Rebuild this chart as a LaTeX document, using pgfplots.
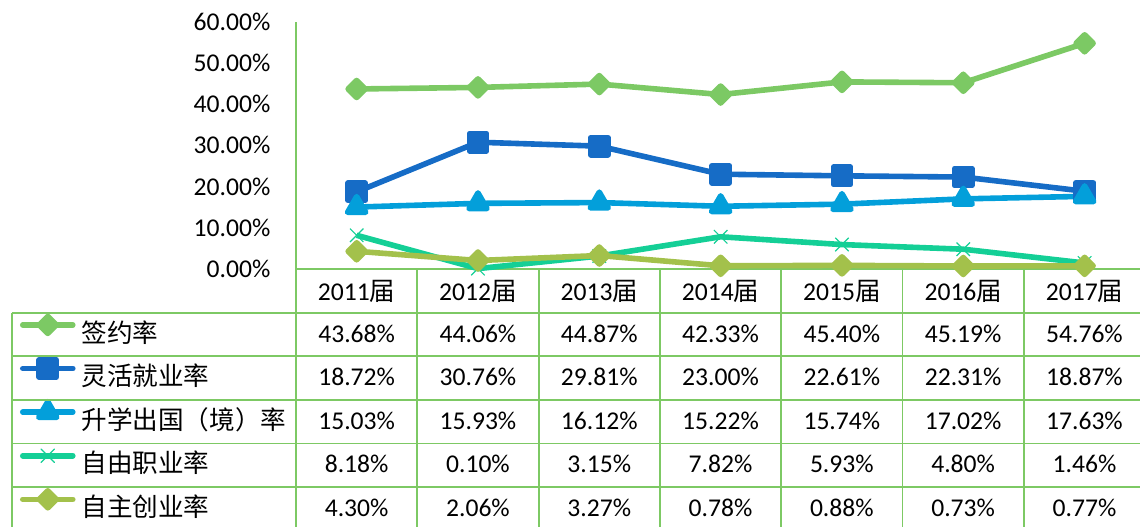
\documentclass[border=0pt]{standalone}
\usepackage{pgfplots}
\usepackage{pgfplotstable}
\pgfplotsset{compat=1.18}
\usepackage{fontspec}
\setmainfont{Carlito}
\newfontfamily\cjk{Noto Sans CJK SC}
\definecolor{cA}{RGB}{124,201,100}
\definecolor{cB}{RGB}{22,108,198}
\definecolor{cC}{RGB}{3,159,218}
\definecolor{cD}{RGB}{20,207,150}
\definecolor{cE}{RGB}{163,193,75}
\definecolor{gridc}{RGB}{125,201,100}
\newcommand{\fs}{\fontsize{12.8pt}{15pt}\selectfont}
\pgfplotstableread{
x a b c d e
0 43.68 18.72 15.03 8.18 4.30
1 44.06 30.76 15.93 0.10 2.06
2 44.87 29.81 16.12 3.15 3.27
3 42.33 23.00 15.22 7.82 0.78
4 45.40 22.61 15.74 5.93 0.88
5 45.19 22.31 17.02 4.80 0.73
6 54.76 18.87 17.63 1.46 0.77
}\data
\begin{document}
\begin{tikzpicture}
\clip (-148pt,-128.5pt) rectangle (422pt,134.5pt);
\begin{axis}[
  at={(0,0)}, anchor=south west,
  scale only axis, width=424.65pt, height=123.65pt,
  xmin=-0.5, xmax=6.5, ymin=0, ymax=60,
  clip=false,
  axis x line=bottom, axis y line=left,
  axis line style={draw=gridc, line width=0.9pt, -},
  major tick length=0pt,
  ytick={0,10,...,60},
  yticklabel={\pgfmathprintnumber[fixed,fixed zerofill,precision=2,assume math mode=true]{\tick}\%},
  yticklabel style={font=\fs, anchor=east, inner sep=0pt, xshift=-12.6pt},
  xtick={0,...,6},
  xticklabels={2011{\cjk 届},2012{\cjk 届},2013{\cjk 届},2014{\cjk 届},2015{\cjk 届},2016{\cjk 届},2017{\cjk 届}},
  xticklabel style={font=\fs, anchor=base, inner sep=0pt, yshift=-15.5pt},
  every axis plot/.append style={line width=2.8pt, line join=round},
  legend image code/.code={\draw[mark repeat=2,mark phase=2,line cap=round,#1] plot coordinates {(0pt,4.75pt) (12.5pt,4.75pt) (25pt,4.75pt)};},
  legend style={at={(0,0)}, anchor=north west, xshift=-138pt, yshift=-21.8pt,
    draw=none, fill=none, inner sep=0pt, outer sep=0pt, row sep=0pt, column sep=3pt,
    font=\fs\cjk,
    nodes={inner sep=0pt, text height=14.75pt, text depth=7.05pt},
    cells={anchor=base west}},
  legend cell align=left,
]
\addplot[color=cA, mark=square*, mark size=3.0pt, mark options={rotate=45}] table[x=x,y=a]{\data};
\addlegendentry{签约率}
\addplot[color=cB, mark=square*, mark size=4.3pt] table[x=x,y=b]{\data};
\addlegendentry{灵活就业率}
\addplot[color=cC, mark=triangle*, mark size=5.2pt] table[x=x,y=c]{\data};
\addlegendentry{升学出国（境）率}
\addplot[color=cD, mark=x, mark size=4.75pt, mark options={line width=0.6pt}] table[x=x,y=d]{\data};
\addlegendentry{自由职业率}
\addplot[color=cE, mark=square*, mark size=3.0pt, mark options={rotate=45}] table[x=x,y=e]{\data};
\addlegendentry{自主创业率}
\end{axis}
\begin{scope}[shift={(-148pt,134.5pt)}, x=0.5pt, y=-0.5pt]
  \foreach \k in {1,...,5} {
    \draw[gridc, line width=0.9pt] (12,{269+43.6*\k}) -- (1150,{269+43.6*\k});
  }
  \foreach \k in {1,...,7} {
    \draw[gridc, line width=0.9pt] ({296+121.3*\k},269) -- ({296+121.3*\k},535);
  }
  \draw[gridc, line width=0.9pt] (296,269) -- (296,535);
  \draw[gridc, line width=0.9pt] (12,312.6) -- (12,535);
  \foreach \row [count=\j] in {
    {43.68,44.06,44.87,42.33,45.40,45.19,54.76},
    {18.72,30.76,29.81,23.00,22.61,22.31,18.87},
    {15.03,15.93,16.12,15.22,15.74,17.02,17.63},
    {8.18,0.10,3.15,7.82,5.93,4.80,1.46},
    {4.30,2.06,3.27,0.78,0.88,0.73,0.77}} {
    \foreach \v [count=\i] in \row {
      \node[anchor=base, inner sep=0pt, font=\fs] at ({296+121.3*(\i-0.5)},{298.5+43.6*\j}) {\v\%};
    }
  }
\end{scope}
\end{tikzpicture}
\end{document}
